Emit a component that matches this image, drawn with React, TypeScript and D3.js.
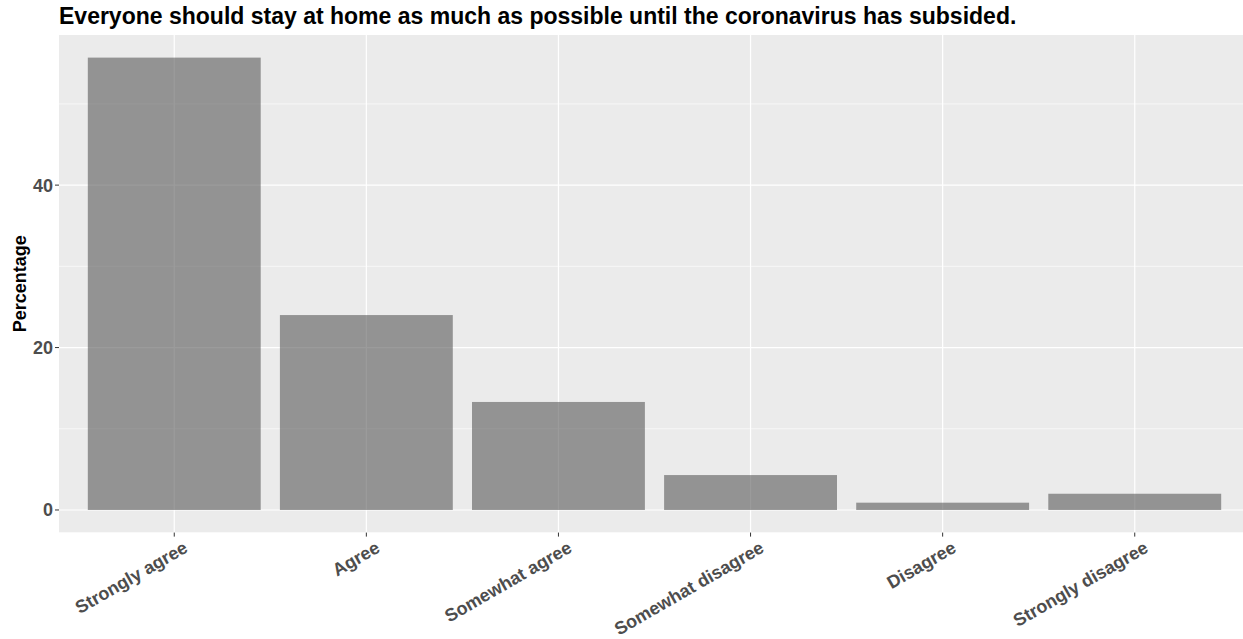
import React from "react";
import * as d3 from "d3";

// Survey responses (percent of respondents)
const categories: string[] = [
  "Strongly agree",
  "Agree",
  "Somewhat agree",
  "Somewhat disagree",
  "Disagree",
  "Strongly disagree",
];
const percentages: number[] = [55.7, 24.0, 13.3, 4.3, 0.9, 2.0];
const majorTicks: number[] = [0, 20, 40];
const minorTicks: number[] = [10, 30, 50];

const title = "Everyone should stay at home as much as possible until the coronavirus has subsided.";
const yTitle = "Percentage";

const W = 1243;
const H = 639;
const panel = { left: 59, right: 1250, top: 35, bottom: 532.6 };
const font = "'Liberation Sans', Arial, Helvetica, sans-serif";

export default function App() {
  const maxV = d3.max(percentages) as number;
  const y = d3
    .scaleLinear()
    .domain([-0.05 * maxV, 1.05 * maxV])
    .range([panel.bottom, panel.top]);
  const x = d3
    .scalePoint<string>()
    .domain(categories)
    .range([panel.left, panel.right])
    .padding(0.6);
  const step = x.step();
  const barW = step * 0.9;

  return (
    <svg
      width={W}
      height={H}
      style={{ position: "absolute", left: 0, top: 0, background: "#fff" }}
    >
      <defs>
        <clipPath id="panelClip">
          <rect x={panel.left} y={panel.top} width={W - panel.left} height={panel.bottom - panel.top} />
        </clipPath>
      </defs>
      <text x={panel.left} y={23.5} fontFamily={font} fontWeight="bold" fontSize={23} fill="#000">
        {title}
      </text>
      <g clipPath="url(#panelClip)">
        <rect
          x={panel.left}
          y={panel.top}
          width={panel.right - panel.left}
          height={panel.bottom - panel.top}
          fill="#EBEBEB"
        />
        {minorTicks.map((t) => (
          <line key={"mn" + t} x1={panel.left} x2={panel.right} y1={y(t)} y2={y(t)} stroke="#fff" strokeWidth={0.6} />
        ))}
        {majorTicks.map((t) => (
          <line key={"mj" + t} x1={panel.left} x2={panel.right} y1={y(t)} y2={y(t)} stroke="#fff" strokeWidth={1.2} />
        ))}
        {categories.map((c) => (
          <line key={"v" + c} x1={x(c)} x2={x(c)} y1={panel.top} y2={panel.bottom} stroke="#fff" strokeWidth={1.2} />
        ))}
        {categories.map((c, i) => (
          <rect
            key={"b" + c}
            x={(x(c) as number) - barW / 2}
            y={y(percentages[i])}
            width={barW}
            height={y(0) - y(percentages[i])}
            fill="#595959"
            fillOpacity={0.6}
          />
        ))}
      </g>
      {/* y axis */}
      {majorTicks.map((t) => (
        <g key={"yt" + t}>
          <line x1={panel.left - 4} x2={panel.left} y1={y(t)} y2={y(t)} stroke="#333" strokeWidth={1} />
          <text
            x={panel.left - 6}
            y={y(t)}
            dy="0.36em"
            textAnchor="end"
            fontFamily={font}
            fontWeight="bold"
            fontSize={18}
            fill="#4D4D4D"
          >
            {t}
          </text>
        </g>
      ))}
      <text
        transform={`translate(25.5, ${(panel.top + panel.bottom) / 2}) rotate(-90)`}
        textAnchor="middle"
        fontFamily={font}
        fontWeight="bold"
        fontSize={18}
        fill="#000"
      >
        {yTitle}
      </text>
      {/* x axis */}
      {categories.map((c) => (
        <g key={"xt" + c}>
          <line x1={x(c)} x2={x(c)} y1={panel.bottom} y2={panel.bottom + 4} stroke="#333" strokeWidth={1} />
          <text
            transform={`translate(${(x(c) as number) + 8}, ${panel.bottom + 7}) rotate(-30)`}
            textAnchor="end"
            dy="0.75em"
            fontFamily={font}
            fontWeight="bold"
            fontSize={18}
            fill="#4D4D4D"
          >
            {c}
          </text>
        </g>
      ))}
    </svg>
  );
}
